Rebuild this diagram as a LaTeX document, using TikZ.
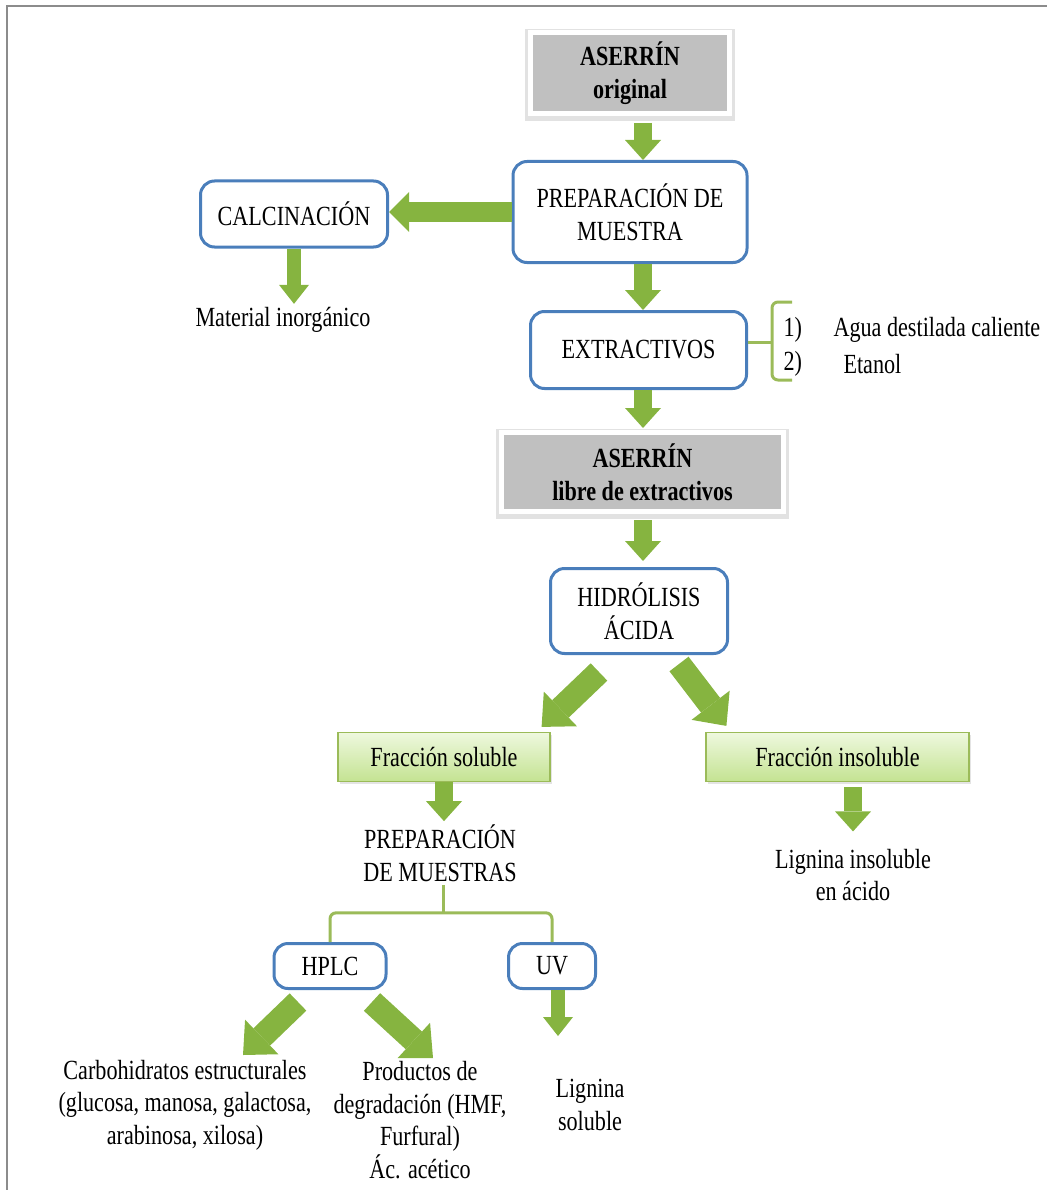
\documentclass[tikz,border=0pt]{standalone}
\usepackage{fontspec}
\setmainfont{Liberation Serif}[FakeStretch=0.8]
\usepackage{tikz}
\usetikzlibrary{positioning,arrows.meta,calc}
\definecolor{flowBlue}{HTML}{4A7EBB}
\definecolor{flowGreen}{HTML}{86B440}
\definecolor{flowLine}{HTML}{9BBB59}
\definecolor{flowGray}{HTML}{C0C0C0}
\definecolor{flowFrame}{HTML}{8C8C8C}
\definecolor{fracTop}{HTML}{EEF8DE}
\definecolor{fracBot}{HTML}{C4E392}
\newcommand{\flowfont}{\fontsize{27.7}{32.6}\selectfont}
\tikzset{
  stepbox/.style={draw=flowBlue,fill=white,rounded corners=14pt,line width=3pt,
    align=center},
  graybox/.style={fill=flowGray,draw=white,line width=5pt,align=center,
    font={\flowfont\bfseries},
    preaction={draw=black!45,line width=11pt,opacity=.25,
      transform canvas={yshift=-2pt}}},
  fracbox/.style={draw=flowLine,line width=1.2pt,top color=fracTop,
    bottom color=fracBot,minimum height=49pt,
    preaction={fill=black!30,opacity=.35,transform canvas={xshift=1.5pt,yshift=-2pt}}},
  plain/.style={align=center},
  fatarrow/.style={draw=flowGreen,line width=18pt,
    -{Triangle[length=20pt,width=36pt,line width=0pt]}},
  widearrow/.style={draw=flowGreen,line width=20pt,
    -{Triangle[length=20pt,width=40pt,line width=0pt]}},
  bigarrow/.style={draw=flowGreen,line width=24pt,
    -{Triangle[length=26pt,width=48pt,line width=0pt]}},
  thinarrow/.style={draw=flowGreen,line width=14pt,
    -{Triangle[length=19pt,width=30pt,line width=0pt]}},
  bracket/.style={draw=flowLine,line width=3pt}
}

\begin{document}
\begin{tikzpicture}[x=1pt,y=-1pt,every node/.style={font=\flowfont}]
  \useasboundingbox (0,0) rectangle (1047,1190);
  \draw[flowFrame,line width=2pt] (7,1190) -- (7,6) -- (1047,6);

  % main column
  \node[graybox,minimum width=199pt,minimum height=81pt] (orig) at (630,73) {ASERRÍN\\original};
  \node[stepbox,minimum width=234pt,minimum height=101pt] (prep) at (630,212) {PREPARACIÓN DE\\MUESTRA};
  \node[stepbox,minimum width=187pt,minimum height=66pt] (calc) at (294,214) {CALCINACIÓN};
  \node[plain] (matinorg) at (283,320) {Material inorgánico};
  \node[stepbox,minimum width=216pt,minimum height=77pt] (extr) at (638.5,350) {EXTRACTIVOS};
  \node[graybox,minimum width=282pt,minimum height=79pt] (asl) at (642.5,472) {ASERRÍN\\libre de extractivos};
  \node[stepbox,minimum width=177pt,minimum height=85pt] (hidro) at (639,611) {HIDRÓLISIS\\ÁCIDA};

  % extraction solvents
  \node[anchor=west] (num1) at (780,330) {1)};
  \node[anchor=west] (agua) at (830,330) {Agua destilada caliente};
  \node[anchor=west] (num2) at (780,364) {2)};
  \node[anchor=west] (etanol) at (840,364) {Etanol};

  % fractions
  \node[fracbox,minimum width=212pt] (fsol) at (444,757) {Fracción soluble};
  \node[fracbox,minimum width=263pt] (finsol) at (837.5,757) {Fracción insoluble};
  \node[plain] (prepm) at (440,853) {PREPARACIÓN\\DE MUESTRAS};
  \node[plain] (liginsol) at (853,875) {Lignina insoluble\\en ácido};
  \node[stepbox,minimum width=112pt,minimum height=45pt] (hplc) at (330,966) {HPLC};
  \node[stepbox,minimum width=87pt,minimum height=45pt] (uv) at (552,966) {UV};
  \node[plain] (carbo) at (185,1105) {Carbohidratos estructurales\\(glucosa, manosa, galactosa,\\arabinosa, xilosa)};
  \node[plain] (prod) at (420,1120) {Productos de\\degradación (HMF,\\Furfural)\\Ác. acético};
  \node[plain] (ligsol) at (590,1105) {Lignina\\soluble};

  % connectors
  \coordinate (axis) at (643,0);
  \draw[fatarrow,shorten <=7pt] (orig.south -| axis) -- (prep.north -| axis);
  \draw[fatarrow] (prep.south -| axis) -- (extr.north -| axis);
  \draw[fatarrow,shorten >=2pt] (extr.south -| axis) -- (asl.north -| axis);
  \draw[fatarrow,shorten <=6pt,shorten >=6pt] (asl.south -| axis) -- (hidro.north -| axis);
  \draw[widearrow] (prep.west) -- (prep.west -| calc.east);
  \draw[thinarrow] (calc.south) -- (calc.south |- matinorg.north);
  \draw[bigarrow] ($(hidro.south)+(-40,17)$) -- ($(fsol.north east)+(-9,-5)$);
  \draw[bigarrow] ($(hidro.south)+(40,9)$) -- ($(finsol.north west)+(21,-6)$);
  \draw[fatarrow] (fsol.south) -- (fsol.south |- prepm.north);
  \draw[fatarrow,shorten <=5pt,shorten >=14pt] (finsol.south -| liginsol) -- (liginsol.north);

  % brackets
  \coordinate (xbk) at ($(extr.east)+(24,-8)$);
  \draw[bracket] (extr.east |- xbk) -- (xbk);
  \draw[bracket,rounded corners=6pt] ($(xbk)+(20,-40)$) -| (xbk) |- ($(xbk)+(20,38)$);
  \coordinate (bmid) at ($(prepm.south)+(3,28)$);
  \draw[bracket] (prepm.south -| bmid) -- (bmid);
  \draw[bracket,rounded corners=6pt] (hplc.north) |- (bmid) -| (uv.north);

  % analysis outputs
  \coordinate (carbotip) at (243,1055);
  \coordinate (prodtip) at (433,1058);
  \coordinate (uvtip) at (558,1036);
  \draw[bigarrow] ($(hplc.south)+(-32,12)$) -- (carbotip);
  \draw[bigarrow] ($(hplc.south)+(42,12)$) -- (prodtip);
  \draw[thinarrow] ($(uv.south)+(6,0)$) -- (uvtip);
\end{tikzpicture}
\end{document}
